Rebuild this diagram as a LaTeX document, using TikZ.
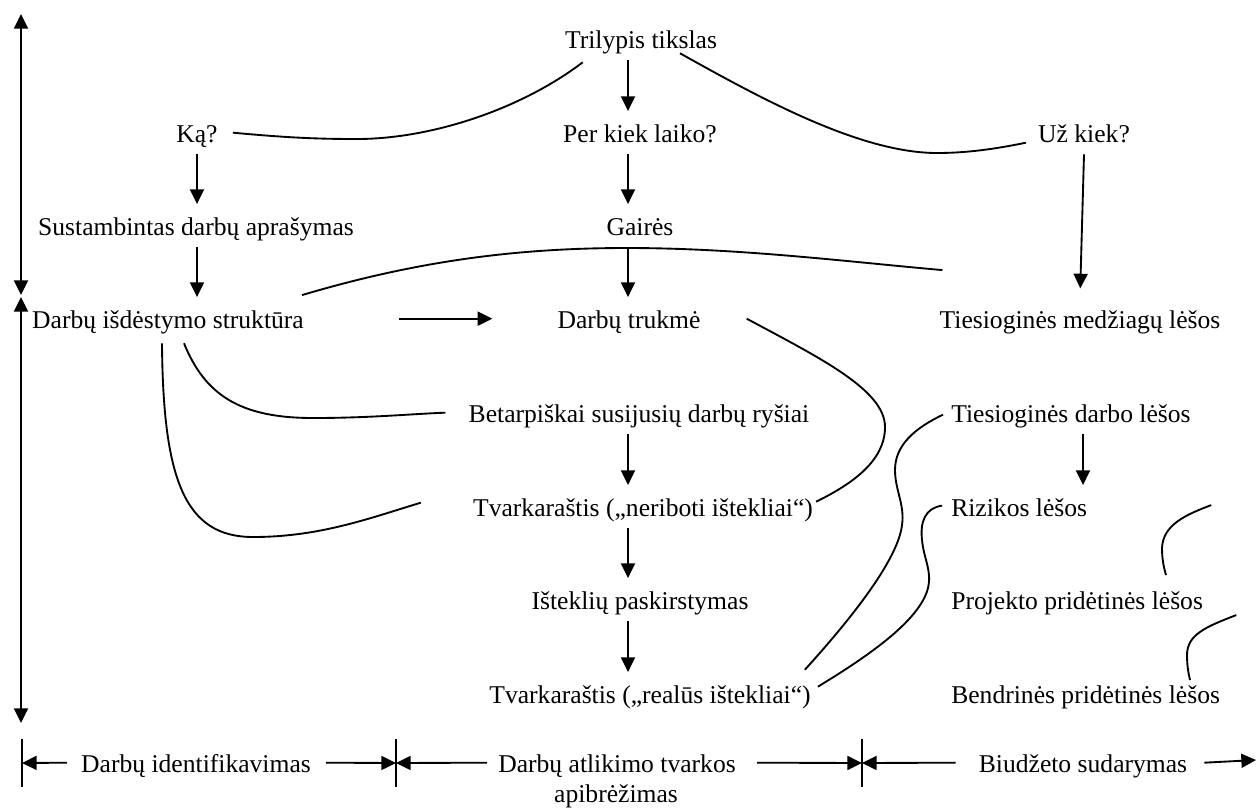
\documentclass[tikz,border=0pt]{standalone}
\usepackage{fontspec}
\setmainfont{Liberation Serif}
\usetikzlibrary{arrows.meta,calc}
\begin{document}
\begin{tikzpicture}[x=0.75pt,y=-0.75pt,
  lbl/.style={anchor=base,inner xsep=0pt,inner ysep=6pt,text height=17pt,text depth=3pt,
              font=\fontsize{19.2}{22.5}\selectfont},
  lblw/.style={lbl,anchor=base west},
  link/.style={line width=1.4pt},
  arr/.style={line width=1.4pt,-{Triangle[length=11pt,width=10.5pt]}},
  darr/.style={line width=1.4pt,{Triangle[length=11pt,width=10.5pt]}-{Triangle[length=11pt,width=10.5pt]}},
  tick/.style={line width=1.4pt}]
\useasboundingbox (0,0) rectangle (1256,808);

% column lines for the vertical arrows
\coordinate (lc) at (197,0);
\coordinate (mc) at (628,0);
\coordinate (rc) at (1083,0);

% texts
\node[lbl] (tri) at (641,48) {Trilypis tikslas};
\node[lbl] (ka) at (197,142) {Ką?};
\node[lbl] (per) at (640,142) {Per kiek laiko?};
\node[lbl] (uz) at (1084,142) {Už kiek?};
\node[lbl] (sus) at (196,235) {Sustambintas darbų aprašymas};
\node[lbl] (gai) at (640,235) {Gairės};
\node[lbl] (dis) at (168,328) {Darbų išdėstymo struktūra};
\node[lbl] (truk) at (629,328) {Darbų trukmė};
\node[lbl] (med) at (1080,328) {Tiesioginės medžiagų lėšos};
\node[lbl] (bet) at (639,422) {Betarpiškai susijusių darbų ryšiai};
\node[lblw] (tdl) at (951,422) {Tiesioginės darbo lėšos};
\node[lbl] (tv1) at (643,516) {Tvarkaraštis („neriboti ištekliai“)};
\node[lblw] (riz) at (951,516) {Rizikos lėšos};
\node[lbl] (ist) at (640,609) {Išteklių paskirstymas};
\node[lblw] (prj) at (951,609) {Projekto pridėtinės lėšos};
\node[lbl] (tv2) at (650,703) {Tvarkaraštis („realūs ištekliai“)};
\node[lblw] (bnd) at (951,703) {Bendrinės pridėtinės lėšos};

% phase labels
\node[lbl] (b1) at (196,772) {Darbų identifikavimas};
\node[lbl] (b2) at (617,772) {Darbų atlikimo tvarkos};
\node[lbl] (b2b) at (616,802) {apibrėžimas};
\node[lbl] (b3) at (1083,772) {Biudžeto sudarymas};

% straight arrows
\draw[arr] (tri.south -| mc) -- (per.north -| mc);
\draw[arr] (per.south -| mc) -- (gai.north -| mc);
\draw[arr] (gai.south -| mc) -- (truk.north -| mc);
\draw[arr] (ka.south -| lc) -- (sus.north -| lc);
\draw[arr] (sus.south -| lc) -- (dis.north -| lc);
\draw[arr,shorten >=6.5pt] (uz.south) -- (med.north);
\draw[arr] ($(dis.east)+(95,0)$) -- ($(truk.west)+(-65,0)$);
\draw[arr] (bet.south -| mc) -- (tv1.north -| mc);
\draw[arr] (tv1.south -| mc) -- (ist.north -| mc);
\draw[arr] (ist.south -| mc) -- (tv2.north -| mc);
\draw[arr] (tdl.south -| rc) -- (riz.north -| rc);

% curved links
\draw[link] ($(ka.east)+(15,0)$) .. controls (290,138) and (320,139) .. (357,139)
  .. controls (430,139) and (520,110) .. ($(tri.south west)+(18,2)$);
\draw[link] ($(tri.south)+(39,-7)$) .. controls (760,98) and (860,153) .. (937,153)
  .. controls (970,153) and (1000,148) .. ($(uz.west)+(-12,10)$);
\draw[link] ($(dis.north east)+(-2,-2)$) .. controls (420,260) and (520,248) .. (627,248)
  .. controls (740,248) and (850,262) .. ($(med.north west)+(3,-27)$);
\draw[link] ($(truk.east)+(46,0)$) .. controls (820,358) and (885,390) .. (885,427)
  .. controls (885,462) and (850,485) .. ($(tv1.east)+(3,-5)$);
\draw[link] ($(dis.south)+(16,3)$) .. controls (205,395) and (240,418) .. (313,418)
  .. controls (370,418) and (410,414) .. ($(bet.west)+(-23,0)$);
\draw[link] ($(dis.south)+(-6,3)$) .. controls (163,480) and (185,537) .. (253,537)
  .. controls (320,537) and (370,518) .. ($(tv1.west)+(-52,-4)$);
\draw[link] ($(tdl.west)+(-8,2)$) .. controls (915,428) and (895,445) .. (895,470)
  .. controls (895,490) and (905,505) .. (902,525)
  .. controls (898,560) and (850,620) .. ($(tv2.east)+(-6,-24)$);
\draw[link] ($(riz.west)+(-9,-1)$) .. controls (925,508) and (920,522) .. (922,540)
  .. controls (924,560) and (932,570) .. (928,588)
  .. controls (920,620) and (870,655) .. ($(tv2.east)+(7,-7)$);
\draw[link] ($(prj.north east)+(8,-73)$) .. controls (1185,515) and (1163,525) .. (1162,548)
  .. controls (1162,560) and (1164,568) .. ($(prj.north west)+(215,-3)$);
\draw[link] ($(bnd.north east)+(16,-57)$) .. controls (1205,627) and (1187,635) .. (1187,655)
  .. controls (1187,668) and (1189,675) .. ($(bnd.north west)+(239,8)$);

% left-hand vertical scale
\coordinate (a1) at (21,14);
\coordinate (a2) at (21,295);
\coordinate (a3) at (21,297);
\coordinate (a4) at (21,723);
\draw[darr] (a1) -- (a2);
\draw[darr] (a3) -- (a4);

% phase boundaries and spans
\coordinate (t1) at (22,763);
\coordinate (t2) at (396,763);
\coordinate (t3) at (862,763);
\coordinate (t4) at (1256,760);
\foreach \t in {t1,t2,t3}
  \draw[tick] ($(\t)+(0,-24)$) -- ($(\t)+(0,24)$);
\draw[arr] ($(b1.west)+(-14,0)$) -- (t1);
\draw[arr] ($(b1.east)+(15,0)$) -- (t2);
\draw[arr] ($(b2.west)+(-11,0)$) -- (t2);
\draw[arr] ($(b2.east)+(21,0)$) -- (t3);
\draw[arr] ($(b3.west)+(-23,0)$) -- (t3);
\draw[arr] ($(b3.east)+(17,0)$) -- (t4);
\end{tikzpicture}
\end{document}
